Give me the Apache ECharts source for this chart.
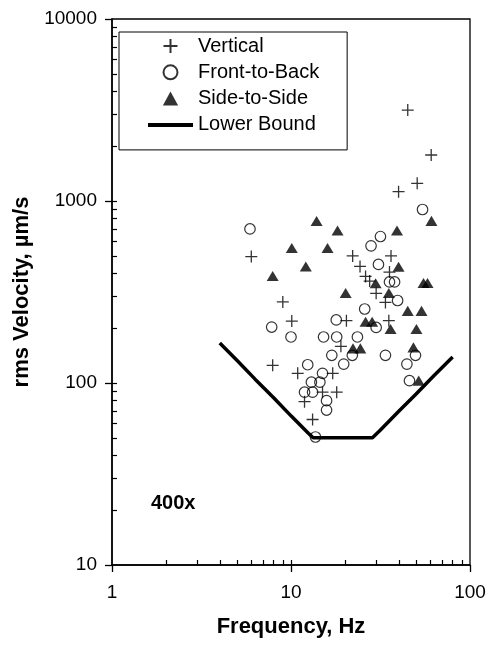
<!DOCTYPE html>
<html><head><meta charset="utf-8">
<script src="https://cdn.jsdelivr.net/npm/echarts@6/dist/echarts.min.js"></script>
<style>html,body{margin:0;padding:0;background:#fff}#c{width:491px;height:645px}</style>
</head><body><div id="c"></div>
<script>
// ---- data ----
const seriesNames = ['Vertical', 'Front-to-Back', 'Side-to-Side', 'Lower Bound'];

const vertFreq = [6.0, 9.0, 10.1, 7.9, 10.9, 11.9, 13.2, 15.0, 18.0, 17.1, 19.0, 20.4, 22.1, 36.2, 24.3, 26.1, 27.5, 35.5, 29.9, 33.7, 35.2, 44.9, 60.7, 50.7, 39.9];
const vertVel  = [495, 279, 219, 125, 113, 79, 63, 89, 89, 113, 159, 220, 499, 499, 437, 385, 363, 407, 311, 277, 220, 3160, 1790, 1250, 1125];

const fbFreq = [5.9, 7.8, 10.0, 15.2, 18.0, 16.9, 22.0, 23.5, 17.9, 54.3, 31.6, 28.0, 30.8, 35.5, 37.9, 39.4, 25.8, 29.9, 33.7, 49.6, 44.4, 45.9, 12.4, 19.7, 15.0, 13.0, 14.5, 11.9, 13.2, 15.8, 15.8, 13.7];
const fbVel  = [702, 203, 179, 179, 179, 142, 142, 179, 222, 898, 638, 567, 448, 359, 359, 284, 255, 202, 142, 142, 127, 103, 126, 127, 113, 101, 101, 89, 89, 80, 71, 50.5];

const ssFreq = [7.9, 13.9, 18.2, 10.1, 16.0, 12.1, 20.2, 60.9, 39.1, 39.9, 29.7, 55.0, 57.9, 35.2, 44.9, 53.6, 26.1, 28.4, 36.0, 50.2, 22.2, 24.4, 48.3, 51.7];
const ssVel  = [387, 777, 689, 552, 552, 437, 312, 778, 689, 435, 353, 354, 354, 312, 249, 249, 217, 217, 198, 198, 155, 155, 157, 103];

const lbFreq = [4, 5, 6.3, 8, 10, 12.5, 13.3, 16, 20, 25, 28.5, 31.5, 40, 50, 63, 80];
const lbVel  = [166, 133, 105, 83, 66, 53, 50, 50, 50, 50, 50, 55, 70, 87, 110, 139];

const xMinorTicks = [2,3,4,5,6,7,8,9,10,20,30,40,50,60,70,80,90];
const yMinorTicks = [20,30,40,50,60,70,80,90,100,200,300,400,500,600,700,800,900,1000,2000,3000,4000,5000,6000,7000,8000,9000];

const xTitle = 'Frequency, Hz';
const yTitle = 'rms Velocity, µm/s';
const note = '400x';

// ---- chart ----
const F = '"Liberation Sans", Arial, sans-serif';
const zip = (a, b) => a.map((v, i) => [v, b[i]]);
const rect = {left: 112, top: 19, right: 21, bottom: 80};
const chart = echarts.init(document.getElementById('c'));
const labelFmt = v => String(Math.round(v));
const plusPath = 'path://M0,6L12,6M6,0L6,12';
const triPath = 'path://M6,0L12,11L0,11Z';
const barPath = 'path://M0,0L45,0L45,4L0,4Z';

chart.setOption({
  animation: false,
  backgroundColor: '#fff',
  grid: [
    Object.assign({show: true, borderColor: '#000', borderWidth: 1.3, backgroundColor: 'transparent'}, rect),
    Object.assign({}, rect)
  ],
  xAxis: [
    {type: 'log', logBase: 10, gridIndex: 0, min: 1, max: 100, position: 'bottom',
     axisLine: {show: true, lineStyle: {color: '#000', width: 1.5}},
     axisTick: {show: true, inside: false, length: 7, lineStyle: {color: '#000', width: 1.3}},
     axisLabel: {color: '#000', fontSize: 19, fontFamily: F, margin: 18, formatter: labelFmt},
     splitLine: {show: false},
     name: xTitle, nameLocation: 'middle', nameGap: 51,
     nameTextStyle: {fontSize: 22, fontWeight: 'bold', fontFamily: F, color: '#000'}},
    {type: 'log', logBase: 10, gridIndex: 1, min: 1, max: 100, position: 'bottom',
     axisLine: {show: false},
     axisTick: {show: true, inside: true, length: 5, customValues: xMinorTicks, lineStyle: {color: '#000', width: 1.2}},
     axisLabel: {show: false}, splitLine: {show: false}}
  ],
  yAxis: [
    {type: 'log', logBase: 10, gridIndex: 0, min: 10, max: 10000, position: 'left',
     axisLine: {show: true, lineStyle: {color: '#000', width: 1.5}},
     axisTick: {show: true, inside: false, length: 7, lineStyle: {color: '#000', width: 1.3}},
     axisLabel: {color: '#000', fontSize: 19, fontFamily: F, margin: 15, formatter: labelFmt},
     splitLine: {show: false},
     name: yTitle, nameLocation: 'middle', nameGap: 78,
     nameTextStyle: {fontSize: 22, fontWeight: 'bold', fontFamily: F, color: '#000'}},
    {type: 'log', logBase: 10, gridIndex: 1, min: 10, max: 10000, position: 'left',
     axisLine: {show: false},
     axisTick: {show: true, inside: true, length: 5, customValues: yMinorTicks, lineStyle: {color: '#000', width: 1.2}},
     axisLabel: {show: false}, splitLine: {show: false}}
  ],
  legend: {
    orient: 'vertical', left: 119, top: 32,
    padding: [3.5, 28, 14.5, 29], itemGap: 5.3, itemWidth: 45, itemHeight: 14,
    borderColor: '#000', borderWidth: 1, backgroundColor: '#fff',
    symbolKeepAspect: true,
    textStyle: {fontSize: 20, fontFamily: F, color: '#000', lineHeight: 21},
    data: [
      {name: seriesNames[0]},
      {name: seriesNames[1]},
      {name: seriesNames[2]},
      {name: seriesNames[3], icon: barPath, itemStyle: {color: '#000'}}
    ]
  },
  graphic: [{type: 'text', left: 151, top: 493,
    style: {text: note, font: 'bold 20px "Liberation Sans", Arial, sans-serif', fill: '#000'}}],
  series: [
    {name: seriesNames[0], type: 'scatter', xAxisIndex: 0, yAxisIndex: 0, data: zip(vertFreq, vertVel),
     symbol: plusPath, symbolSize: 12, symbolKeepAspect: true,
     itemStyle: {color: 'transparent', borderColor: '#000', borderWidth: 1.3}, emphasis: {disabled: true}},
    {name: seriesNames[1], type: 'scatter', xAxisIndex: 0, yAxisIndex: 0, data: zip(fbFreq, fbVel),
     symbol: 'circle', symbolSize: 10.5, symbolKeepAspect: true,
     itemStyle: {color: 'transparent', borderColor: '#000', borderWidth: 1.2}, emphasis: {disabled: true}},
    {name: seriesNames[2], type: 'scatter', xAxisIndex: 0, yAxisIndex: 0, data: zip(ssFreq, ssVel),
     symbol: triPath, symbolSize: [12, 11], symbolKeepAspect: true,
     itemStyle: {color: '#000'}, emphasis: {disabled: true}},
    {name: seriesNames[3], type: 'line', xAxisIndex: 0, yAxisIndex: 0, data: zip(lbFreq, lbVel),
     symbol: 'none', showSymbol: false, z: 1,
     lineStyle: {color: '#000', width: 3.5}, itemStyle: {color: '#000'}, emphasis: {disabled: true}}
  ]
});
</script>
</body></html>
